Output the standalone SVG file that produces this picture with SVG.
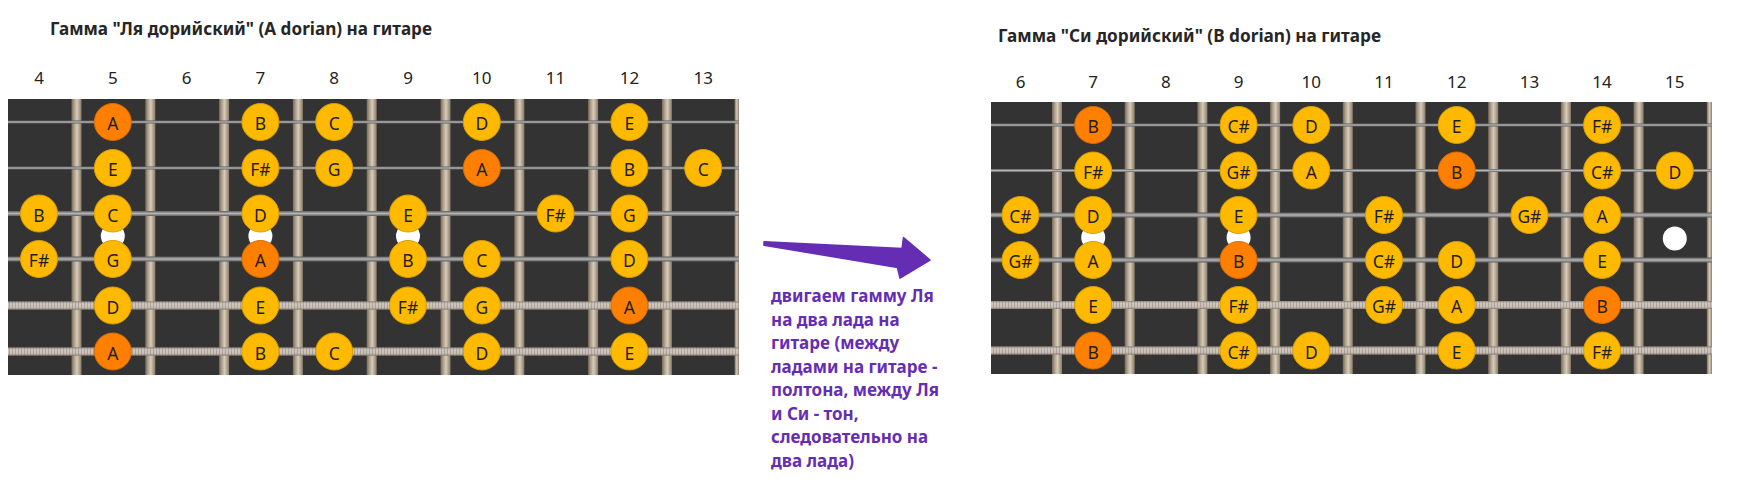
<svg xmlns="http://www.w3.org/2000/svg" width="1739" height="500" viewBox="0 0 1739 500">
<defs>
<linearGradient id="gFret" x1="0" y1="0" x2="1" y2="0">
<stop offset="0" stop-color="#7a6b59"/><stop offset="0.3" stop-color="#b3a591"/><stop offset="0.55" stop-color="#d6ccba"/><stop offset="1" stop-color="#8a7b67"/>
</linearGradient>
<linearGradient id="gStr" x1="0" y1="0" x2="0" y2="1">
<stop offset="0" stop-color="#5e5e5e"/><stop offset="0.5" stop-color="#b4b4b4"/><stop offset="1" stop-color="#5e5e5e"/>
</linearGradient>
<linearGradient id="gWound" x1="0" y1="0" x2="0" y2="1">
<stop offset="0" stop-color="#6b625b" stop-opacity="0.7"/><stop offset="0.35" stop-color="#ffffff" stop-opacity="0.2"/><stop offset="0.6" stop-color="#ffffff" stop-opacity="0.12"/><stop offset="1" stop-color="#6b5a50" stop-opacity="0.7"/>
</linearGradient>
<pattern id="pWound" patternUnits="userSpaceOnUse" width="3" height="10">
<rect width="3" height="10" fill="#c3b9ae"/><rect width="1" height="10" fill="#9c9086"/>
</pattern>
</defs>
<style>
.board{fill:#333333}
.fret{fill:url(#gFret)}
.s1{fill:url(#gStr)}
.sw{fill:url(#pWound)}
.swo{fill:url(#gWound)}
.dot{fill:#ffffff}
.n circle{fill:#ffba00;stroke:#d99e00;stroke-width:1}
.n.o circle{fill:#ff8000;stroke:#d96a00}
.n text{font-family:"Noto Sans","Open Sans",sans-serif;font-size:17.5px;fill:#1e1e1e;text-anchor:middle}
.num{font-family:"Noto Sans","Open Sans",sans-serif;font-size:17px;fill:#222222;text-anchor:middle}
.title{font-family:"Noto Sans","Open Sans",sans-serif;font-size:17px;font-weight:bold;fill:#262626}
.note{font-family:"Noto Sans","Open Sans",sans-serif;font-size:17px;font-weight:bold;fill:#652db4}
</style>
<rect width="1739" height="500" fill="#ffffff"/>

<g id="left-board">
<text class="title" x="50" y="35" textLength="382" lengthAdjust="spacingAndGlyphs">Гамма "Ля дорийский" (A dorian) на гитаре</text>
<g id="left-fret-numbers">
<text class="num" x="39" y="84">4</text><text class="num" x="112.8" y="84">5</text><text class="num" x="186.6" y="84">6</text><text class="num" x="260.4" y="84">7</text><text class="num" x="334.2" y="84">8</text><text class="num" x="408" y="84">9</text><text class="num" x="481.8" y="84">10</text><text class="num" x="555.6" y="84">11</text><text class="num" x="629.4" y="84">12</text><text class="num" x="703.2" y="84">13</text>
</g>
<rect class="board" x="8" y="99" width="731" height="276"/>
<g id="left-frets">
<rect class="fret" x="71.5" y="99" width="10" height="276"/><rect class="fret" x="145.3" y="99" width="10" height="276"/><rect class="fret" x="219.1" y="99" width="10" height="276"/><rect class="fret" x="292.9" y="99" width="10" height="276"/><rect class="fret" x="366.7" y="99" width="10" height="276"/><rect class="fret" x="440.5" y="99" width="10" height="276"/><rect class="fret" x="514.3" y="99" width="10" height="276"/><rect class="fret" x="588.1" y="99" width="10" height="276"/><rect class="fret" x="661.9" y="99" width="10" height="276"/><rect class="fret" x="734.5" y="99" width="4.5" height="276"/>
</g>
<g id="left-inlays">
<circle class="dot" cx="112.8" cy="236" r="12"/><circle class="dot" cx="260.4" cy="236" r="12"/><circle class="dot" cx="408" cy="236" r="12"/>
</g>
<g id="left-strings">
<rect class="s1" x="8" y="120.5" width="731" height="3"/>
<rect class="s1" x="8" y="166.5" width="731" height="3"/>
<rect class="s1" x="8" y="211" width="731" height="5"/>
<rect class="s1" x="8" y="256.5" width="731" height="5"/>
<rect class="sw" x="8" y="301.5" width="731" height="8"/><rect class="swo" x="8" y="301.5" width="731" height="8"/>
<rect class="sw" x="8" y="347.5" width="731" height="8"/><rect class="swo" x="8" y="347.5" width="731" height="8"/>
</g>
<g id="left-notes">
<g id="L1-5" class="n o" transform="translate(112.8,122)"><circle r="18.5"/><text y="8">A</text></g>
<g id="L1-7" class="n" transform="translate(260.4,122)"><circle r="18.5"/><text y="8">B</text></g>
<g id="L1-8" class="n" transform="translate(334.2,122)"><circle r="18.5"/><text y="8">C</text></g>
<g id="L1-10" class="n" transform="translate(481.8,122)"><circle r="18.5"/><text y="8">D</text></g>
<g id="L1-12" class="n" transform="translate(629.4,122)"><circle r="18.5"/><text y="8">E</text></g>
<g id="L2-5" class="n" transform="translate(112.8,168)"><circle r="18.5"/><text y="8">E</text></g>
<g id="L2-7" class="n" transform="translate(260.4,168)"><circle r="18.5"/><text y="8">F#</text></g>
<g id="L2-8" class="n" transform="translate(334.2,168)"><circle r="18.5"/><text y="8">G</text></g>
<g id="L2-10" class="n o" transform="translate(481.8,168)"><circle r="18.5"/><text y="8">A</text></g>
<g id="L2-12" class="n" transform="translate(629.4,168)"><circle r="18.5"/><text y="8">B</text></g>
<g id="L2-13" class="n" transform="translate(703.2,168)"><circle r="18.5"/><text y="8">C</text></g>
<g id="L3-4" class="n" transform="translate(39,213.5)"><circle r="18.5"/><text y="8">B</text></g>
<g id="L3-5" class="n" transform="translate(112.8,213.5)"><circle r="18.5"/><text y="8">C</text></g>
<g id="L3-7" class="n" transform="translate(260.4,213.5)"><circle r="18.5"/><text y="8">D</text></g>
<g id="L3-9" class="n" transform="translate(408,213.5)"><circle r="18.5"/><text y="8">E</text></g>
<g id="L3-11" class="n" transform="translate(555.6,213.5)"><circle r="18.5"/><text y="8">F#</text></g>
<g id="L3-12" class="n" transform="translate(629.4,213.5)"><circle r="18.5"/><text y="8">G</text></g>
<g id="L4-4" class="n" transform="translate(39,259)"><circle r="18.5"/><text y="8">F#</text></g>
<g id="L4-5" class="n" transform="translate(112.8,259)"><circle r="18.5"/><text y="8">G</text></g>
<g id="L4-7" class="n o" transform="translate(260.4,259)"><circle r="18.5"/><text y="8">A</text></g>
<g id="L4-9" class="n" transform="translate(408,259)"><circle r="18.5"/><text y="8">B</text></g>
<g id="L4-10" class="n" transform="translate(481.8,259)"><circle r="18.5"/><text y="8">C</text></g>
<g id="L4-12" class="n" transform="translate(629.4,259)"><circle r="18.5"/><text y="8">D</text></g>
<g id="L5-5" class="n" transform="translate(112.8,305.5)"><circle r="18.5"/><text y="8">D</text></g>
<g id="L5-7" class="n" transform="translate(260.4,305.5)"><circle r="18.5"/><text y="8">E</text></g>
<g id="L5-9" class="n" transform="translate(408,305.5)"><circle r="18.5"/><text y="8">F#</text></g>
<g id="L5-10" class="n" transform="translate(481.8,305.5)"><circle r="18.5"/><text y="8">G</text></g>
<g id="L5-12" class="n o" transform="translate(629.4,305.5)"><circle r="18.5"/><text y="8">A</text></g>
<g id="L6-5" class="n o" transform="translate(112.8,351.5)"><circle r="18.5"/><text y="8">A</text></g>
<g id="L6-7" class="n" transform="translate(260.4,351.5)"><circle r="18.5"/><text y="8">B</text></g>
<g id="L6-8" class="n" transform="translate(334.2,351.5)"><circle r="18.5"/><text y="8">C</text></g>
<g id="L6-10" class="n" transform="translate(481.8,351.5)"><circle r="18.5"/><text y="8">D</text></g>
<g id="L6-12" class="n" transform="translate(629.4,351.5)"><circle r="18.5"/><text y="8">E</text></g>
</g>
</g>

<g id="connectors">
<path d="M764,241.8 L902,248.5 L903.5,237.5 L930,260 L900,278 L897.5,267.5 L764,245.2 Z" fill="#652db4" stroke="#652db4" stroke-width="1.5" stroke-linejoin="round"/>
</g>

<g id="caption">
<text class="note" x="771" y="302">двигаем гамму Ля</text>
<text class="note" x="771" y="325.5">на два лада на</text>
<text class="note" x="771" y="349">гитаре (между</text>
<text class="note" x="771" y="372.5">ладами на гитаре -</text>
<text class="note" x="771" y="396">полтона, между Ля</text>
<text class="note" x="771" y="419.5">и Си - тон,</text>
<text class="note" x="771" y="443">следовательно на</text>
<text class="note" x="771" y="466.5">два лада)</text>
</g>

<g id="right-board">
<text class="title" x="998" y="42" textLength="383" lengthAdjust="spacingAndGlyphs">Гамма "Си дорийский" (B dorian) на гитаре</text>
<g id="right-fret-numbers">
<text class="num" x="1020.5" y="88">6</text><text class="num" x="1093.2" y="88">7</text><text class="num" x="1165.9" y="88">8</text><text class="num" x="1238.6" y="88">9</text><text class="num" x="1311.3" y="88">10</text><text class="num" x="1384" y="88">11</text><text class="num" x="1456.7" y="88">12</text><text class="num" x="1529.4" y="88">13</text><text class="num" x="1602.1" y="88">14</text><text class="num" x="1674.8" y="88">15</text>
</g>
<rect class="board" x="991" y="102" width="721" height="272"/>
<g id="right-frets">
<rect class="fret" x="1052" y="102" width="10" height="272"/><rect class="fret" x="1124.7" y="102" width="10" height="272"/><rect class="fret" x="1197.4" y="102" width="10" height="272"/><rect class="fret" x="1270.1" y="102" width="10" height="272"/><rect class="fret" x="1342.8" y="102" width="10" height="272"/><rect class="fret" x="1415.5" y="102" width="10" height="272"/><rect class="fret" x="1488.2" y="102" width="10" height="272"/><rect class="fret" x="1560.9" y="102" width="10" height="272"/><rect class="fret" x="1633.6" y="102" width="10" height="272"/><rect class="fret" x="1706.8" y="102" width="5.2" height="272"/>
</g>
<g id="right-inlays">
<circle class="dot" cx="1093.2" cy="237.5" r="12"/><circle class="dot" cx="1238.6" cy="237.5" r="12"/><circle class="dot" cx="1674.8" cy="238.5" r="12"/>
</g>
<g id="right-strings">
<rect class="s1" x="991" y="123.5" width="721" height="3"/>
<rect class="s1" x="991" y="169" width="721" height="3"/>
<rect class="s1" x="991" y="212.5" width="721" height="5"/>
<rect class="s1" x="991" y="257.5" width="721" height="5"/>
<rect class="sw" x="991" y="301" width="721" height="8"/><rect class="swo" x="991" y="301" width="721" height="8"/>
<rect class="sw" x="991" y="346.5" width="721" height="8"/><rect class="swo" x="991" y="346.5" width="721" height="8"/>
</g>
<g id="right-notes">
<g id="R1-7" class="n o" transform="translate(1093.2,125)"><circle r="18.5"/><text y="8">B</text></g>
<g id="R1-9" class="n" transform="translate(1238.6,125)"><circle r="18.5"/><text y="8">C#</text></g>
<g id="R1-10" class="n" transform="translate(1311.3,125)"><circle r="18.5"/><text y="8">D</text></g>
<g id="R1-12" class="n" transform="translate(1456.7,125)"><circle r="18.5"/><text y="8">E</text></g>
<g id="R1-14" class="n" transform="translate(1602.1,125)"><circle r="18.5"/><text y="8">F#</text></g>
<g id="R2-7" class="n" transform="translate(1093.2,170.5)"><circle r="18.5"/><text y="8">F#</text></g>
<g id="R2-9" class="n" transform="translate(1238.6,170.5)"><circle r="18.5"/><text y="8">G#</text></g>
<g id="R2-10" class="n" transform="translate(1311.3,170.5)"><circle r="18.5"/><text y="8">A</text></g>
<g id="R2-12" class="n o" transform="translate(1456.7,170.5)"><circle r="18.5"/><text y="8">B</text></g>
<g id="R2-14" class="n" transform="translate(1602.1,170.5)"><circle r="18.5"/><text y="8">C#</text></g>
<g id="R2-15" class="n" transform="translate(1674.8,170.5)"><circle r="18.5"/><text y="8">D</text></g>
<g id="R3-6" class="n" transform="translate(1020.5,215)"><circle r="18.5"/><text y="8">C#</text></g>
<g id="R3-7" class="n" transform="translate(1093.2,215)"><circle r="18.5"/><text y="8">D</text></g>
<g id="R3-9" class="n" transform="translate(1238.6,215)"><circle r="18.5"/><text y="8">E</text></g>
<g id="R3-11" class="n" transform="translate(1384,215)"><circle r="18.5"/><text y="8">F#</text></g>
<g id="R3-13" class="n" transform="translate(1529.4,215)"><circle r="18.5"/><text y="8">G#</text></g>
<g id="R3-14" class="n" transform="translate(1602.1,215)"><circle r="18.5"/><text y="8">A</text></g>
<g id="R4-6" class="n" transform="translate(1020.5,260)"><circle r="18.5"/><text y="8">G#</text></g>
<g id="R4-7" class="n" transform="translate(1093.2,260)"><circle r="18.5"/><text y="8">A</text></g>
<g id="R4-9" class="n o" transform="translate(1238.6,260)"><circle r="18.5"/><text y="8">B</text></g>
<g id="R4-11" class="n" transform="translate(1384,260)"><circle r="18.5"/><text y="8">C#</text></g>
<g id="R4-12" class="n" transform="translate(1456.7,260)"><circle r="18.5"/><text y="8">D</text></g>
<g id="R4-14" class="n" transform="translate(1602.1,260)"><circle r="18.5"/><text y="8">E</text></g>
<g id="R5-7" class="n" transform="translate(1093.2,305)"><circle r="18.5"/><text y="8">E</text></g>
<g id="R5-9" class="n" transform="translate(1238.6,305)"><circle r="18.5"/><text y="8">F#</text></g>
<g id="R5-11" class="n" transform="translate(1384,305)"><circle r="18.5"/><text y="8">G#</text></g>
<g id="R5-12" class="n" transform="translate(1456.7,305)"><circle r="18.5"/><text y="8">A</text></g>
<g id="R5-14" class="n o" transform="translate(1602.1,305)"><circle r="18.5"/><text y="8">B</text></g>
<g id="R6-7" class="n o" transform="translate(1093.2,350.5)"><circle r="18.5"/><text y="8">B</text></g>
<g id="R6-9" class="n" transform="translate(1238.6,350.5)"><circle r="18.5"/><text y="8">C#</text></g>
<g id="R6-10" class="n" transform="translate(1311.3,350.5)"><circle r="18.5"/><text y="8">D</text></g>
<g id="R6-12" class="n" transform="translate(1456.7,350.5)"><circle r="18.5"/><text y="8">E</text></g>
<g id="R6-14" class="n" transform="translate(1602.1,350.5)"><circle r="18.5"/><text y="8">F#</text></g>
</g>
</g>
</svg>
